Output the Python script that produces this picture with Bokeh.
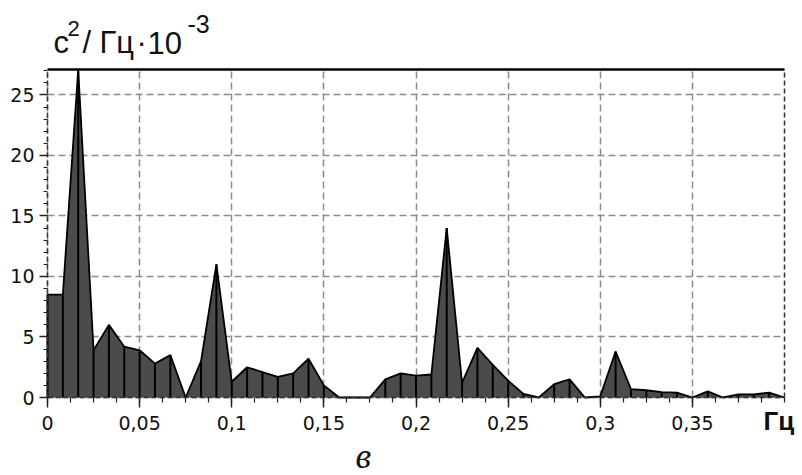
from bokeh.plotting import figure
from bokeh.models import (Range1d, FixedTicker, Label, LinearAxis,
                          CustomJSTickFormatter)
from bokeh.embed import file_html
from bokeh.resources import INLINE

# ---- data ----
freq_step = 1 / 120  # Hz between spectral samples
power = [8.5, 8.5, 27.1, 3.9, 6.0, 4.2, 3.9, 2.8, 3.5, 0.0,
         3.0, 11.0, 1.3, 2.5, 2.1, 1.7, 2.0, 3.2, 1.0, 0.0,
         0.0, 0.0, 1.5, 2.0, 1.8, 1.9, 14.0, 1.2, 4.1, 2.7,
         1.4, 0.3, 0.0, 1.1, 1.5, 0.0, 0.1, 3.8, 0.7, 0.6,
         0.45, 0.4, 0.0, 0.5, 0.0, 0.25, 0.25, 0.4, 0.0]
freq = [k * freq_step for k in range(len(power))]
zeros = [0.0] * len(power)

x_ticks = [0, 0.05, 0.1, 0.15, 0.2, 0.25, 0.3, 0.35]
x_tick_labels = ["0", "0,05", "0,1", "0,15", "0,2", "0,25", "0,3", "0,35"]
x_minor = [i * 0.0125 for i in range(33)]
y_ticks = [0, 5, 10, 15, 20, 25]
y_minor = list(range(28))

X_MAX = 0.4
Y_MAX = 27.1

# ---- layout: the frame covers the canvas, axes are pinned at 0 ----
W, H = 802, 475
PL, PR, PT, PB = 47, 784, 69, 397          # pixel box of the plot area
KX = (PR - PL) / X_MAX                     # px per Hz
KY = (PB - PT) / Y_MAX                     # px per unit
x0 = -PL / KX
y0 = -(H - PB) / KY


def sx(px):
    return x0 + px / KX


def sy(py):
    return y0 + (H - py) / KY


p = figure(width=W, height=H, output_backend="svg", toolbar_location=None,
           x_range=Range1d(x0, x0 + W / KX), y_range=Range1d(y0, y0 + H / KY),
           min_border=0, min_border_left=0, min_border_right=0,
           min_border_top=0, min_border_bottom=0)
p.outline_line_color = None
p.background_fill_color = "white"
p.border_fill_color = "white"

# grid
p.xgrid.cross_bounds = (0, Y_MAX)
p.ygrid.cross_bounds = (0, X_MAX)
for g in (p.xgrid, p.ygrid):
    g.grid_line_color = "#8c8c8c"
    g.grid_line_dash = "7 4"
    g.grid_line_width = 1.5

# axes
p.xaxis.fixed_location = 0
p.yaxis.fixed_location = 0
p.xaxis.bounds = (0, X_MAX)
p.yaxis.bounds = (0, Y_MAX)
p.xaxis.ticker = FixedTicker(ticks=x_ticks, minor_ticks=x_minor)
p.yaxis.ticker = FixedTicker(ticks=y_ticks, minor_ticks=y_minor)
p.xaxis.formatter = CustomJSTickFormatter(
    args=dict(tick_vals=x_ticks, tick_names=x_tick_labels),
    code="""
const i = tick_vals.findIndex(t => Math.abs(t - tick) < 1e-9);
return i >= 0 ? tick_names[i] : '';
""")
for ax in (p.xaxis, p.yaxis):
    ax.axis_line_color = "#333333"
    ax.axis_line_dash = "5 3"
    ax.axis_line_width = 1.5
    ax.major_tick_line_color = "#222222"
    ax.minor_tick_line_color = "#222222"
    ax.major_tick_line_width = 1.5
    ax.minor_tick_line_width = 1.2
    ax.major_tick_in = 0
    ax.minor_tick_in = 0
    ax.major_label_text_font = "DejaVu Sans"
    ax.major_label_text_color = "#111111"
p.xaxis.major_tick_out = 10
p.xaxis.minor_tick_out = 5
p.xaxis.major_label_standoff = 8
p.xaxis.major_label_text_font_size = "19px"
p.yaxis.major_tick_out = 8
p.yaxis.minor_tick_out = 4
p.yaxis.major_label_standoff = 5
p.yaxis.major_label_text_font_size = "19px"

# frame: solid top edge, dashed right edge
top_axis = LinearAxis(fixed_location=Y_MAX, bounds=(0, X_MAX),
                      ticker=FixedTicker(ticks=[]),
                      axis_line_color="black", axis_line_width=2.5)
p.add_layout(top_axis, "above")
right_axis = LinearAxis(fixed_location=X_MAX, bounds=(0, Y_MAX),
                        ticker=FixedTicker(ticks=[]),
                        axis_line_color="#333333", axis_line_width=1.5,
                        axis_line_dash="5 3")
p.add_layout(right_axis, "right")

# spectrum
p.varea(x=freq, y1=zeros, y2=power, fill_color="#4b4b4b")
p.segment(x0=freq, y0=zeros, x1=freq, y1=power, line_color="black", line_width=2)
p.line(x=freq, y=power, line_color="black", line_width=1.8)

# title pieces  с²/Гц·10⁻³  (pixel anchors, corrected for text box offset)
title_font = "Liberation Sans"
pieces = [
    ("с", 53, 42, "31px"),
    ("2", 67, 28, "22px"),
    ("/", 82, 42, "31px"),
    ("Гц", 99, 42, "31px"),
    ("·", 136, 42, "31px"),
    ("10", 147, 42, "31px"),
    ("-3", 187, 23, "25px"),
]
for txt, px, py, fs in pieces:
    p.add_layout(Label(x=sx(px), y=sy(py), text=txt, text_font=title_font,
                       text_font_size=fs, text_color="#111111",
                       text_baseline="alphabetic", text_align="left"))

# unit label at the x axis end and panel letter
p.add_layout(Label(x=sx(763), y=sy(405), text="Гц", text_font="Liberation Sans",
                   text_font_size="26px", text_font_style="bold", text_color="#111111",
                   text_baseline="top", text_align="left"))
p.add_layout(Label(x=sx(355), y=sy(455), text="в", text_font="Liberation Serif",
                   text_font_size="36px", text_font_style="italic", text_color="#111111",
                   text_baseline="alphabetic", text_align="left"))

open("out.html", "w").write(file_html(p, INLINE))
